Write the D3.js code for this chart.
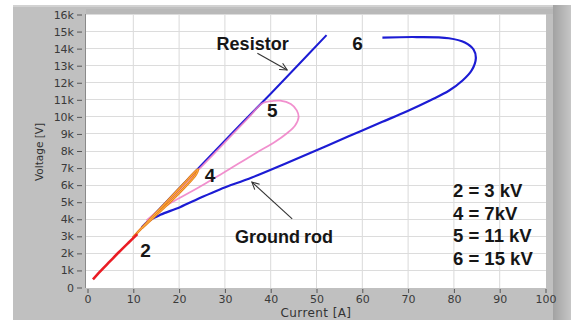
<!DOCTYPE html>
<html>
<head>
<meta charset="utf-8">
<script src="https://cdn.jsdelivr.net/npm/d3@7"></script>
<style>
  body { margin: 0; background: #fff; }
  svg { display: block; }
</style>
</head>
<body>
<div id="chart"></div>
<script>
// Data: [current A, voltage V]
const xTicks = [0, 10, 20, 30, 40, 50, 60, 70, 80, 90, 100];
const yTicks = d3.range(0, 16001, 1000);

// 2 = 3 kV
const series2 = [[1.3, 450], [3, 950], [5, 1500], [7, 2050], [9, 2580], [11, 3100]];
// 4 = 7 kV (up along the resistor line and back)
const series4 = [[10, 2900], [13, 3750], [16, 4600], [19, 5450], [22, 6300], [24.2, 6900],
  [23.8, 6600], [21, 5750], [18, 4950], [15, 4200], [12, 3450]];
// 5 = 11 kV
const series5 = [[11, 3200], [15, 4300], [20, 5650], [25, 7050], [30, 8450], [35, 9850],
  [38.4, 10780], [40.5, 10900], [42.2, 10920], [44.5, 10720], [45.8, 10350], [46.2, 9950],
  [45.4, 9450], [43.6, 9000], [41, 8500], [37, 7870], [33, 7220], [29, 6570],
  [25, 5930], [20.3, 5230], [16, 4560], [13, 3900]];
// 6 = 15 kV, rising part and loop part (gap under the "6" label)
const series6Up = [[12, 3500], [20, 5750], [30, 8550], [40, 11300], [46, 12980], [52.3, 14760]];
const series6Loop = [[64.5, 14620], [72, 14650], [79, 14580], [82.5, 14330], [84.4, 13920],
  [84.9, 13400], [84, 12700], [82, 12100], [79, 11500], [75, 10950], [70, 10320],
  [64.5, 9680], [57, 8820], [50, 8000], [43, 7200], [36, 6420], [29, 5720], [25, 5260],
  [20.3, 4680], [16, 4230], [13.5, 3880], [12, 3500]];

const legendLines = ["2 = 3 kV", "4 = 7kV", "5 = 11 kV", "6 = 15 kV"];
const curveLabels = [
  { text: "2", x: 11.6, y: 1750 },
  { text: "4", x: 25.7, y: 6150 },
  { text: "5", x: 39.3, y: 9950 },
  { text: "6", x: 57.9, y: 13900 }
];
const annotations = [
  { text: "Resistor", tx: 28.3, ty: 13900, from: [37.2, 13700], to: [43.7, 12720] },
  { text: "Ground rod", tx: 32.3, ty: 2580, from: [44.8, 3990], to: [36.0, 6150] }
];

const W = 571, H = 320;
const svg = d3.select("#chart").append("svg")
  .attr("width", W).attr("height", H);

const defs = svg.append("defs");
const grad = defs.append("linearGradient").attr("id", "edge")
  .attr("x1", 0).attr("x2", 1).attr("y1", 0).attr("y2", 0);
grad.append("stop").attr("offset", 0).attr("stop-color", "#a2a2a2");
grad.append("stop").attr("offset", 1).attr("stop-color", "#c6c6c6");

defs.append("marker").attr("id", "arrow")
  .attr("viewBox", "0 0 10 10").attr("refX", 9).attr("refY", 5)
  .attr("markerWidth", 9).attr("markerHeight", 9)
  .attr("orient", "auto-start-reverse").attr("markerUnits", "userSpaceOnUse")
  .append("path").attr("d", "M1,1 L9,5 L1,9")
  .attr("fill", "none").attr("stroke", "#333").attr("stroke-width", 1.2);

// gray panel
svg.append("rect").attr("x", 13).attr("y", 5).attr("width", W - 13).attr("height", H - 5)
  .attr("fill", "#c0c0c0");
svg.append("rect").attr("x", 13).attr("y", 5).attr("width", 540).attr("height", 2)
  .attr("fill", "#d2d2d2");
svg.append("rect").attr("x", 86).attr("y", 9).attr("width", 467).attr("height", 5)
  .attr("fill", "#b9b9b9");
svg.append("rect").attr("x", 553).attr("y", 5).attr("width", W - 553).attr("height", H - 5)
  .attr("fill", "url(#edge)");

const x = d3.scaleLinear().domain([0, 100]).range([87, 545]);
const y = d3.scaleLinear().domain([0, 16000]).range([287, 14]);

// plot area
svg.append("rect").attr("x", 86).attr("y", 14).attr("width", 460).attr("height", 274)
  .attr("fill", "#fff");
svg.append("line").attr("x1", 85.5).attr("x2", 85.5).attr("y1", 14).attr("y2", 288)
  .attr("stroke", "#8a8a8a");

// grid
svg.append("g").selectAll("line").data(xTicks.slice(1, -1)).join("line")
  .attr("x1", d => x(d) + 0.5).attr("x2", d => x(d) + 0.5)
  .attr("y1", 14).attr("y2", 288)
  .attr("stroke", "#d9d9d9");
svg.append("g").selectAll("line").data(yTicks.slice(1)).join("line")
  .attr("x1", 86).attr("x2", 546)
  .attr("y1", d => Math.round(y(d)) + 0.5).attr("y2", d => Math.round(y(d)) + 0.5)
  .attr("stroke", "#dcdcdc");

// axes
const yAxis = svg.append("g").attr("transform", "translate(82,0.5)")
  .call(d3.axisLeft(y).tickValues(yTicks).tickSize(5).tickPadding(3)
    .tickFormat(d => d === 0 ? "0" : (d / 1000) + "k"));
const xAxis = svg.append("g").attr("transform", "translate(0.5,289)")
  .call(d3.axisBottom(x).tickValues(xTicks).tickSize(4).tickPadding(2)
    .tickFormat(d3.format("d")));
[yAxis, xAxis].forEach(g => {
  g.select(".domain").remove();
  g.selectAll(".tick line").attr("stroke", "#555");
  g.selectAll("text").attr("fill", "#3a3a3a")
    .style("font-family", "'DejaVu Sans', sans-serif").style("font-size", "11px");
});

svg.append("text").attr("x", 316).attr("y", 316.5).attr("text-anchor", "middle")
  .style("font-family", "'DejaVu Sans', sans-serif").style("font-size", "12px")
  .style("letter-spacing", "0.4px").attr("fill", "#333").text("Current [A]");
svg.append("text").attr("transform", "translate(43,152) rotate(-90)")
  .attr("text-anchor", "middle")
  .style("font-family", "'DejaVu Sans', sans-serif").style("font-size", "10.5px")
  .attr("fill", "#333").text("Voltage [V]");

// curves
const line = d3.line().x(d => x(d[0])).y(d => y(d[1])).curve(d3.curveCatmullRom.alpha(0.5));
const plot = svg.append("g");
plot.append("path").datum(series6Up).attr("d", line)
  .attr("fill", "none").attr("stroke", "#1c1cd4").attr("stroke-width", 2);
plot.append("path").datum(series6Loop).attr("d", line)
  .attr("fill", "none").attr("stroke", "#1c1cd4").attr("stroke-width", 2.2);
plot.append("path").datum(series5).attr("d", line)
  .attr("fill", "none").attr("stroke", "#ee7cc6").attr("stroke-width", 1.8)
  .attr("stroke-opacity", 0.85);
plot.append("path").datum(series4).attr("d", line)
  .attr("fill", "none").attr("stroke", "#e9821c").attr("stroke-width", 2.4);
plot.append("path").datum(series4).attr("d", line)
  .attr("fill", "none").attr("stroke", "#fbb04a").attr("stroke-width", 1);
plot.append("path").datum(series2).attr("d", line)
  .attr("fill", "none").attr("stroke", "#ea1c24").attr("stroke-width", 2.6);

// labels
const bold = sel => sel.style("font-family", "'Liberation Sans', Arial, sans-serif")
  .style("font-weight", "bold").attr("fill", "#161616");

svg.append("g").selectAll("text").data(curveLabels).join("text")
  .attr("x", d => x(d.x)).attr("y", d => y(d.y))
  .style("font-size", "19px").text(d => d.text).call(bold);

annotations.forEach(a => {
  svg.append("line")
    .attr("x1", x(a.from[0])).attr("y1", y(a.from[1]))
    .attr("x2", x(a.to[0])).attr("y2", y(a.to[1]))
    .attr("stroke", "#333").attr("stroke-width", 1.1)
    .attr("marker-end", "url(#arrow)");
  svg.append("text").attr("x", x(a.tx)).attr("y", y(a.ty))
    .style("font-size", "18px").style("word-spacing", "-1px")
    .text(a.text).call(bold);
});

svg.append("g").selectAll("text").data(legendLines).join("text")
  .attr("x", 453).attr("y", (d, i) => 197 + i * 22.7)
  .style("font-size", "18.5px").style("word-spacing", "0px")
  .text(d => d).call(bold);
</script>
</body>
</html>
